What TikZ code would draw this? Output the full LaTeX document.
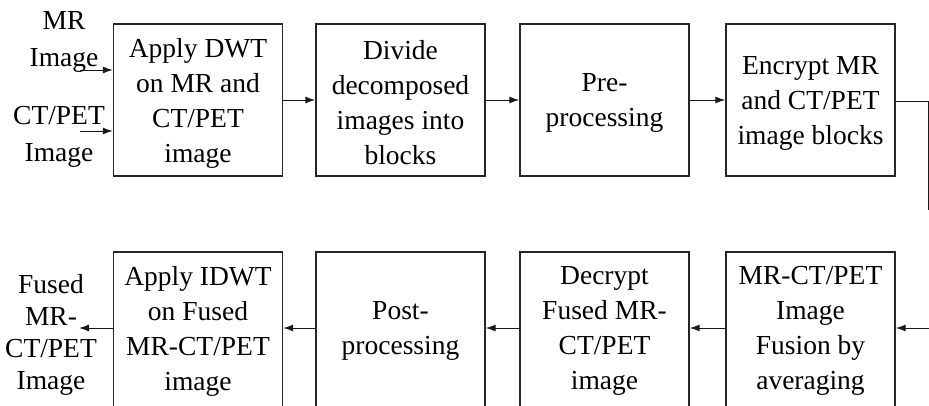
\documentclass[tikz,border=0pt]{standalone}
\usepackage{fontspec}
\setmainfont{Liberation Serif}
\usetikzlibrary{arrows.meta}
\begin{document}
\begin{tikzpicture}[x=1pt,y=-1pt,
  stepbox/.style={draw=black!85,line width=1.4pt,minimum width=169pt,minimum height=152pt,inner sep=0pt},
  lowbox/.style={stepbox,minimum height=158pt},
  boxtext/.style={align=center,inner sep=0pt,font=\fontsize{27.5}{35}\selectfont},
  toptext/.style={boxtext,yshift=-3pt},
  lbl/.style={align=center,inner sep=0pt,font=\fontsize{27.5}{37}\selectfont},
  arr/.style={draw=black!90,line width=1pt,-{Latex[length=10pt,width=7pt]}},
  wire/.style={draw=black!90,line width=1pt}]
\useasboundingbox (0,0) rectangle (929,405);
\clip (0,0) rectangle (929,405);
% top row
\node[stepbox,label={[toptext]center:Apply DWT\\on MR and\\CT/PET\\image}] (b1) at (198,100) {};
\node[stepbox,label={[toptext]center:Divide\\decomposed\\images into\\blocks}] (b2) at (400.5,100) {};
\node[stepbox,label={[toptext]center:Pre-\\processing}] (b3) at (604.5,100) {};
\node[stepbox,label={[toptext]center:Encrypt MR\\and CT/PET\\image blocks}] (b4) at (810.5,100) {};
% bottom row
\node[lowbox,label={[boxtext]center:MR-CT/PET\\Image\\Fusion by\\averaging}] (c4) at (810.5,331) {};
\node[lowbox,label={[boxtext]center:Decrypt\\Fused MR-\\CT/PET\\image}] (c3) at (604.5,331) {};
\node[lowbox,label={[boxtext]center:Post-\\processing}] (c2) at (400.5,331) {};
\node[lowbox,label={[boxtext]center:Apply IDWT\\on Fused\\MR-CT/PET\\image}] (c1) at (198,331) {};
% input labels
\node[lbl] (mr) at (64,42) {MR\\Image};
\node[lbl] (ct) at (59,137) {CT/PET\\Image};
\node[lbl,font=\fontsize{27.5}{32}\selectfont] (out) at (51,335) {Fused\\MR-\\CT/PET\\Image};
% coordinates for free ends
\coordinate (mrin) at (80,70);
\coordinate (ctin) at (80,131);
\coordinate (outend) at (79,328);
\coordinate (r1) at (928,101);
\coordinate (r2) at (928,210);
\coordinate (r3) at (929,328);
% connectors
\draw[arr] (mrin) -- (b1.west |- mrin);
\draw[arr] (ctin) -- (b1.west |- ctin);
\draw[arr] (b1) -- (b2);
\draw[arr] (b2) -- (b3);
\draw[arr] (b3) -- (b4);
\draw[wire] (b4.east |- r1) -- (r1) -- (r2);
\draw[arr] (r3) -- (c4.east |- r3);
\draw[arr] (c4.west |- r3) -- (c3.east |- r3);
\draw[arr] (c3.west |- r3) -- (c2.east |- r3);
\draw[arr] (c2.west |- r3) -- (c1.east |- r3);
\draw[arr] (c1.west |- r3) -- (outend);
\end{tikzpicture}
\end{document}
